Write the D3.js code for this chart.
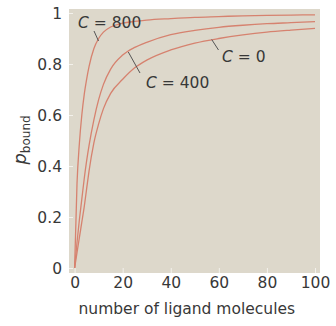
<!DOCTYPE html>
<html><head><meta charset="utf-8">
<script src="https://cdn.jsdelivr.net/npm/d3@7"></script>
<style>html,body{margin:0;padding:0;background:#fff;}svg{display:block;}</style>
</head><body>
<svg id="chart" width="336" height="326"></svg>
<script>
const ligand = [0, 1, 2, 3, 4, 5, 6, 8, 10, 12, 15, 20, 25, 30, 40, 50, 60, 70, 80, 90, 100];
const pC800 = [0, 0.33, 0.49, 0.6, 0.68, 0.74, 0.79, 0.86, 0.9, 0.925, 0.945, 0.96, 0.967, 0.972, 0.978, 0.983, 0.986, 0.989, 0.991, 0.992, 0.993];
const pC400 = [0, 0.1, 0.19, 0.27, 0.35, 0.42, 0.48, 0.58, 0.66, 0.72, 0.78, 0.835, 0.865, 0.885, 0.915, 0.932, 0.944, 0.952, 0.958, 0.962, 0.966];
const pC0   = [0, 0.06, 0.12, 0.18, 0.24, 0.31, 0.38, 0.49, 0.565, 0.625, 0.685, 0.74, 0.785, 0.815, 0.855, 0.882, 0.9, 0.914, 0.925, 0.933, 0.94];
const xTicks = [0, 20, 40, 60, 80, 100];
const yTicks = [0, 0.2, 0.4, 0.6, 0.8, 1];
const yTickLabels = ["0", "0.2", "0.4", "0.6", "0.8", "1"];
const seriesLabels = ["C = 800", "C = 400", "C = 0"];

const svg = d3.select("#chart");
const font = "'DejaVu Sans', sans-serif";
const x = d3.scaleLinear().domain([0, 100]).range([74.6, 315]);
const y = d3.scaleLinear().domain([0, 1]).range([268, 13]);

// plot background
svg.append("rect").attr("x", x(0) - 5.6).attr("y", y(1) - 4)
  .attr("width", x(100) - x(0) + 10.6).attr("height", y(0) - y(1) + 9)
  .attr("fill", "#ddd8cb");

// inner ticks
const xAxis = d3.axisBottom(x).tickValues(xTicks).tickSize(5).tickFormat(d => d);
const gx = svg.append("g").attr("transform", `translate(0,${y(0)})`).call(xAxis);
gx.select(".domain").remove();
gx.selectAll(".tick line").attr("stroke", "#f3f1ec").attr("y1", 0).attr("y2", 5);
gx.selectAll(".tick text").attr("fill", "#383838").attr("font-family", font)
  .attr("font-size", 15.5).attr("y", 9).attr("dy", "0.71em");

const yAxis = d3.axisLeft(y).tickValues(yTicks).tickSize(0).tickFormat((d, i) => yTickLabels[i]);
const gy = svg.append("g").attr("transform", `translate(${x(0) - 5.6},0)`).call(yAxis);
gy.select(".domain").remove();
gy.selectAll(".tick line").attr("stroke", "#f3f1ec").attr("x1", 0).attr("x2", 4);
gy.selectAll(".tick text").attr("fill", "#383838").attr("font-family", font)
  .attr("font-size", 15.5).attr("x", -7).attr("dy", "0.36em");

// curves
const line = d3.line().x((d, i) => x(ligand[i])).y(d => y(d)).curve(d3.curveMonotoneX);
[pC800, pC400, pC0].forEach(s => {
  svg.append("path").datum(s).attr("d", line)
    .attr("fill", "none").attr("stroke", "#d6826f").attr("stroke-width", 1.3);
});

// labels with leaders
const labels = [
  {t: seriesLabels[0], lx: 78, ly: 28, l: [[94, 31], [98.5, 41]]},
  {t: seriesLabels[1], lx: 146, ly: 88, l: [[128.3, 52], [140, 73]]},
  {t: seriesLabels[2], lx: 222, ly: 62, l: [[211.7, 39.5], [218.5, 50]]}
];
labels.forEach(o => {
  svg.append("line").attr("x1", o.l[0][0]).attr("y1", o.l[0][1])
    .attr("x2", o.l[1][0]).attr("y2", o.l[1][1]).attr("stroke", "#555").attr("stroke-width", 1);
  const parts = o.t.split(" ");
  const tx = svg.append("text").attr("x", o.lx).attr("y", o.ly)
    .attr("font-family", font).attr("font-size", 15.5).attr("fill", "#383838");
  tx.append("tspan").attr("font-style", "italic").text(parts[0]);
  tx.append("tspan").text(" " + parts[1] + " " + parts[2]);
});

// axis titles
svg.append("text").attr("x", (x(0) + x(100)) / 2 - 8).attr("y", 314)
  .attr("text-anchor", "middle").attr("font-family", font).attr("font-size", 15.5)
  .attr("fill", "#383838").text("number of ligand molecules");

const yl = svg.append("text").attr("transform", "translate(26,140) rotate(-90)")
  .attr("text-anchor", "middle").attr("font-family", font).attr("fill", "#383838");
yl.append("tspan").attr("font-style", "italic").attr("font-size", 18).text("p");
yl.append("tspan").attr("font-size", 12).attr("dy", 4).text("bound");
</script>
</body></html>
